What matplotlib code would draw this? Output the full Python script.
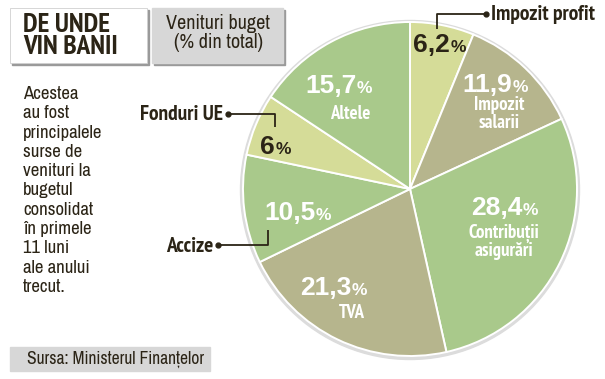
import matplotlib
matplotlib.use('Agg')
import matplotlib.pyplot as plt
import matplotlib.font_manager as fm
from matplotlib.patches import Rectangle, Circle

W, H = 605, 379

# Venituri buget (% din total), clockwise from 12 o'clock
slice_names = ['Impozit profit', 'Impozit salarii', 'Contribuții asigurări', 'TVA',
               'Accize', 'Fonduri UE', 'Altele']
slice_values = [6.2, 11.9, 28.4, 21.3, 10.5, 6.0, 15.7]
slice_pct_text = ['6,2', '11,9', '28,4', '21,3', '10,5', '6', '15,7']
inner_names = ['', 'Impozit\nsalarii', 'Contribuții\nasigurări', 'TVA', '', '', 'Altele']

title_text = 'DE UNDE\nVIN BANII'
subtitle_text = 'Venituri buget\n(% din total)'
note_lines = ['Acestea', 'au fost', 'principalele', 'surse de', 'venituri la', 'bugetul',
              'consolidat', 'în primele', '11 luni', 'ale anului', 'trecut.']
source_text = 'Sursa: Ministerul Finanțelor'

GREEN = '#a9c98b'
KHAKI = '#b6b58d'
LIGHT = '#d5dc98'
DARK = '#2b2416'
slice_colors = [LIGHT, KHAKI, GREEN, KHAKI, GREEN, LIGHT, GREEN]

STRETCH_RANK = {'semi-condensed': 0, 'condensed': 1, 'extra-condensed': 2,
                'ultra-condensed': 3}


def find_font(bold):
    # look for a narrow / condensed face, else fall back to Liberation Sans
    narrow = []
    for f in fm.fontManager.ttflist:
        st = str(f.stretch)
        rank = None
        if 'Narrow' in f.name:
            rank = 0
        elif st in STRETCH_RANK:
            rank = STRETCH_RANK[st]
        elif 'Condensed' in f.name or 'Condensed' in f.fname:
            rank = 1
        if rank is None or 'Italic' in f.fname or f.style != 'normal':
            continue
        w = f.weight if isinstance(f.weight, int) else (700 if 'bold' in str(f.weight) else 400)
        narrow.append((abs(w - (700 if bold else 400)), rank, f.name, f.fname))
    if narrow:
        narrow.sort()
        return fm.FontProperties(fname=narrow[0][3])
    return fm.FontProperties(family='Liberation Sans', weight='bold' if bold else 'normal')


FB = find_font(True)
FR = find_font(False)
# the big figures are wider than the labels
FN = fm.FontProperties(family=['Liberation Sans', 'DejaVu Sans'], weight='bold')

fig = plt.figure(figsize=(W / 100, H / 100), dpi=100)
ax = fig.add_axes([0, 0, 1, 1])


def Y(y):
    # pixel row (from top) -> data y
    return H - y


# pie, shadow rim first
cx, cy, r = 410, 189, 167
ax.add_patch(Circle((cx, Y(cy) - 1), r + 2.5, color='#dcdcdc', zorder=1))
ax.pie(slice_values, colors=slice_colors, startangle=90, counterclock=False,
       center=(cx, Y(cy)), radius=r, frame=True,
       wedgeprops=dict(edgecolor='white', linewidth=1.4, zorder=2))
ax.set_xlim(0, W)
ax.set_ylim(0, H)
ax.set_aspect('auto')
ax.axis('off')


def txt(x, y, s, fp, size, **kw):
    p = fp.copy()
    p.set_size(size)
    return ax.text(x, Y(y), s, fontproperties=p, **kw)


renderer = fig.canvas.get_renderer()

# percentage labels: (x where digits start, baseline row, colour, name centre x, name baseline)
pct_layout = [
    (413, 52, DARK, None, None),
    (462, 92, 'white', 499, 110),
    (471, 215, 'white', 504, 238),
    (300, 295, 'white', 352, 318),
    (264, 220, 'white', None, None),
    (260, 154, DARK, None, None),
    (305, 93, 'white', 350, 119),
]
for s, name, (x0, yb, col, nx, ny) in zip(slice_pct_text, inner_names, pct_layout):
    t = txt(x0, yb, s, FN, 19, ha='left', va='baseline', color=col, zorder=5)
    bb = t.get_window_extent(renderer)
    txt(bb.x1 + 0.5, yb, '%', FN, 12.5, ha='left', va='baseline', color=col, zorder=5)
    if name:
        for i, ln in enumerate(name.split('\n')):
            txt(nx, ny + i * 18, ln, FB, 13.5, ha='center', va='baseline',
                color='white', zorder=5)

# callouts for the small slices
callouts = [
    ('Impozit profit', [(486, 14), (437, 14), (437, 29)], 'left'),
    ('Fonduri UE', [(228, 114), (275, 114), (275, 127)], 'right'),
    ('Accize', [(218, 245), (268, 245), (268, 230)], 'right'),
]
for lab, pts, side in callouts:
    xs = [p[0] for p in pts]
    ys = [Y(p[1]) for p in pts]
    ax.plot(xs, ys, color=DARK, lw=1.3, zorder=6, solid_capstyle='butt')
    ax.plot(xs[0], ys[0], 'o', color=DARK, ms=3.5, zorder=6)
    if side == 'left':
        txt(pts[0][0] + 5, pts[0][1] + 1, lab, FB, 15.5, ha='left', va='center',
            color=DARK, zorder=6)
    else:
        txt(pts[0][0] - 5, pts[0][1] + 1, lab, FB, 15.5, ha='right', va='center',
            color=DARK, zorder=6)

# title box
ax.add_patch(Rectangle((12, Y(65)), 137, 55, color='#9a9a9a', zorder=3))
ax.add_patch(Rectangle((10, Y(63)), 137, 55, facecolor='white', edgecolor='#d0d0d0',
                       lw=0.6, zorder=4))
txt(23, 36, title_text, FB, 19.5, ha='left', va='center', color=DARK,
    linespacing=0.92, zorder=5)

# subtitle box
ax.add_patch(Rectangle((154, Y(65)), 131, 55, color='#9a9a9a', zorder=3))
ax.add_patch(Rectangle((152, Y(63)), 131, 55, color='#d7d7d7', zorder=4))
txt(218, 33, subtitle_text, FR, 14.5, ha='center', va='center', color=DARK,
    linespacing=0.95, zorder=5)

# side note
for i, ln in enumerate(note_lines):
    txt(23, 99 + i * 19.3, ln, FR, 13.5, ha='left', va='baseline', color=DARK, zorder=5)

# source box
ax.add_patch(Rectangle((10, Y(371)), 200, 24, color='#d7d7d7', zorder=4))
txt(27, 359, source_text, FR, 12.6, ha='left', va='center', color=DARK, zorder=5)

fig.savefig('out.png', dpi=100)
